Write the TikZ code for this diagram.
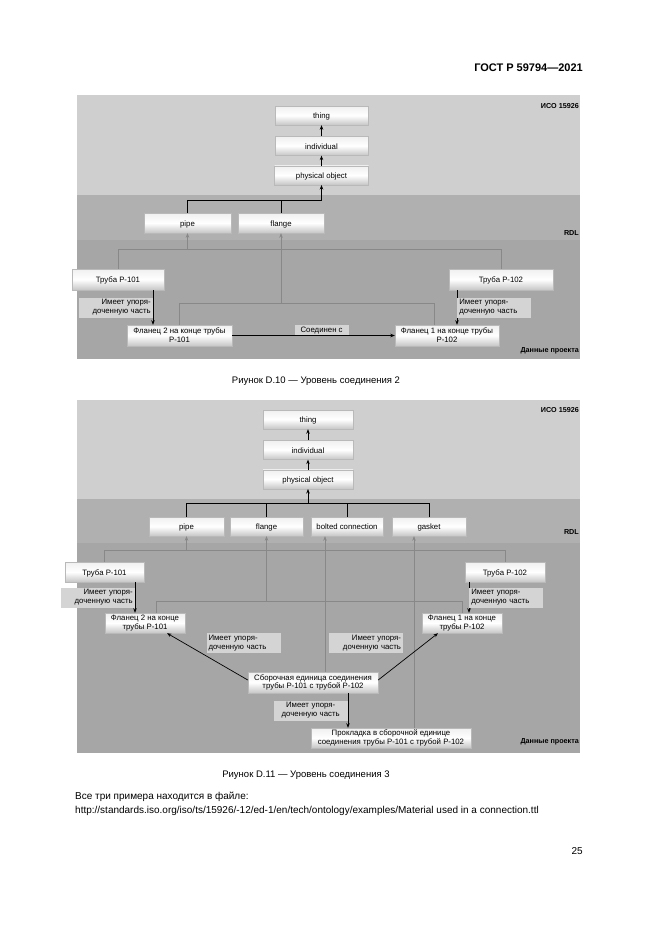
\documentclass[tikz,border=0pt]{standalone}
\usepackage{fontspec}
\setmainfont{Liberation Sans}
\usepackage{xcolor}
\usetikzlibrary{positioning,arrows.meta,shadows,calc}
\definecolor{isobg}{RGB}{207,207,207}
\definecolor{rdlbg}{RGB}{176,176,176}
\definecolor{prjbg}{RGB}{166,166,166}
\definecolor{lblbg}{RGB}{212,212,212}
\definecolor{lineg}{RGB}{136,136,136}

\begin{document}
\begin{tikzpicture}[x=1pt,y=-1pt, every node/.style={font=\fontsize{7.8}{8.8}\selectfont},
  cls/.style={draw=gray!55,top color=gray!12,bottom color=gray!45,middle color=white,
    drop shadow={shadow xshift=.8pt,shadow yshift=-.8pt,opacity=.45},
    minimum height=19pt,inner sep=1pt,align=center},
  one/.style={text height=1.6ex,text depth=.4ex},
  lbl/.style={fill=lblbg,inner xsep=2pt,inner ysep=1pt,minimum height=20pt,text width=70pt},
  lblone/.style={fill=lblbg,inner xsep=3pt,inner ysep=1.5pt,minimum width=54pt},
  zone/.style={font=\fontsize{7.2}{8}\selectfont\bfseries,anchor=east,inner sep=0pt},
  page/.style={font=\fontsize{9.5}{11}\selectfont,inner sep=0pt},
  blk/.style={draw=black,line width=.7pt},
  gry/.style={draw=lineg,line width=.6pt},
  >={Stealth[length=4.5pt,width=3.5pt]}]
  \fill[white] (0,0) rectangle (661,935);
  \useasboundingbox (0,0) rectangle (661,935);

  % page text
  \node[page,font=\fontsize{11}{13}\selectfont\bfseries,anchor=east] (hdr) at (583,68) {ГОСТ Р 59794—2021};
  \node[page] (cap1) at (316,381) {Риунок D.10 — Уровень соединения 2};
  \node[page] (cap2) at (306,775) {Риунок D.11 — Уровень соединения 3};
  \node[page,font=\fontsize{10}{12}\selectfont,anchor=west] (note1) at (75,797) {Все три примера находится в файле:};
  \node[page,font=\fontsize{10}{12}\selectfont,anchor=west] (note2) at (75,811) {http://standards.iso.org/iso/ts/15926/-12/ed-1/en/tech/ontology/examples/Material used in a connection.ttl};
  \node[page,font=\fontsize{10}{12}\selectfont,anchor=east] (pgno) at (583,851) {25};

  % ---- Figure D.10
  \fill[isobg] (77,95) rectangle (580,195);
  \fill[rdlbg] (77,195) rectangle (580,240);
  \fill[prjbg] (77,240) rectangle (580,359);
  \node[zone] (isoA) at (579,106) {ИСО 15926};
  \node[zone] (rdlA) at (579,233) {RDL};
  \node[zone] (prjA) at (579,351) {Данные проекта};

  \node[cls,one,minimum width=93pt] (thing) at (321.5,115.5) {thing};
  \node[cls,one,minimum width=93pt,below=11pt of thing] (ind) {individual};
  \node[cls,one,minimum width=94pt,below=10pt of ind] (phys) {physical object};
  \node[cls,one,minimum width=87pt,minimum height=20pt] (pipe) at (187.5,223) {pipe};
  \node[cls,one,minimum width=86pt,minimum height=20pt] (flange) at (281,223) {flange};
  \node[cls,one,minimum width=92pt,minimum height=21pt] (tr1) at (118,279.5) {Труба Р-101};
  \node[cls,one,minimum width=104pt,minimum height=21pt] (tr2) at (501,279.5) {Труба Р-102};
  \node[cls,minimum width=105pt,minimum height=21pt] (fl2) at (179.5,335.5) {Фланец 2 на конце трубы\\Р-101};
  \node[cls,minimum width=104pt,minimum height=21pt] (fl1) at (447,335.5) {Фланец 1 на конце трубы\\Р-102};

  \draw[->,blk] (ind) -- (thing);
  \draw[->,blk] (phys) -- (ind);
  \coordinate (j1) at ([yshift=-15pt]phys.south);
  \draw[->,blk] (pipe.north) |- (j1) -- (phys.south);
  \draw[blk] (flange.north) -- (flange.north |- j1);

  \coordinate (g1) at ([yshift=-16pt]pipe.south);
  \draw[->,gry] (tr1.north) |- (g1) -- (pipe.south);
  \draw[gry] (tr2.north) |- (g1);
  \coordinate (g2) at ([yshift=-70pt]flange.south);
  \draw[->,gry] (fl2.north) |- (g2) -- (flange.south);
  \coordinate (f1top) at ([xshift=-13pt]fl1.north);
  \draw[gry] (f1top) |- (g2);

  \coordinate (a1) at ([xshift=35pt]tr1.south);
  \draw[->,blk] (a1) -- (a1 |- fl2.north)
    node[lbl,pos=.5,anchor=east,align=right] {Имеет упоря-\\доченную часть};
  \coordinate (a2) at ([xshift=-44pt]tr2.south);
  \draw[->,blk] (a2) -- (a2 |- fl1.north)
    node[lbl,pos=.5,anchor=west,align=left] {Имеет упоря-\\доченную часть};
  \draw[->,blk] (fl2.east) -- (fl1.west) node[lblone,pos=.55,above] {Соединен с};

  % ---- Figure D.11
  \fill[isobg] (77,400) rectangle (580,499);
  \fill[rdlbg] (77,499) rectangle (580,543);
  \fill[prjbg] (77,543) rectangle (580,753);
  \node[zone] (isoB) at (579,410) {ИСО 15926};
  \node[zone] (rdlB) at (579,532) {RDL};
  \node[zone] (prjB) at (579,742) {Данные проекта};

  \node[cls,one,minimum width=90pt] (thingB) at (308,419.5) {thing};
  \node[cls,one,minimum width=90pt,below=11pt of thingB] (indB) {individual};
  \node[cls,one,minimum width=90pt,below=10pt of indB] (physB) {physical object};
  \node[cls,one,minimum width=75pt] (pipeB) at (186.5,526.5) {pipe};
  \node[cls,one,minimum width=73pt] (flangeB) at (266.5,526.5) {flange};
  \node[cls,one,minimum width=72pt] (boltB) at (347,526.5) {bolted connection};
  \node[cls,one,minimum width=74pt] (gasketB) at (429,526.5) {gasket};
  \node[cls,one,minimum width=79pt,minimum height=20pt] (trB1) at (104.5,572) {Труба Р-101};
  \node[cls,one,minimum width=80pt,minimum height=20pt] (trB2) at (505,572) {Труба Р-102};
  \node[cls,minimum width=80pt,minimum height=20pt] (flB2) at (145,623) {Фланец 2 на конце\\трубы Р-101};
  \node[cls,minimum width=80pt,minimum height=20pt] (flB1) at (462,623) {Фланец 1 на конце\\трубы Р-102};
  \node[cls,minimum width=130pt,minimum height=21pt] (asm) at (313,682.5) {Сборочная единица соединения\\трубы Р-101 с трубой Р-102};
  \node[cls,minimum width=160pt,minimum height=20pt] (gsk) at (391,738) {Прокладка в сборочной единице\\соединения трубы Р-101 с трубой Р-102};

  \draw[->,blk] (indB) -- (thingB);
  \draw[->,blk] (physB) -- (indB);
  \coordinate (jB) at ([yshift=-14pt]physB.south);
  \draw[->,blk] (pipeB.north) |- (jB) -- (physB.south);
  \draw[blk] (gasketB.north) |- (jB);
  \draw[blk] (flangeB.north) -- (flangeB.north |- jB);
  \draw[blk] (boltB.north) -- (boltB.north |- jB);

  \coordinate (gB1) at ([yshift=-14pt]pipeB.south);
  \draw[->,gry] (trB1.north) |- (gB1) -- (pipeB.south);
  \draw[gry] (trB2.north) |- (gB1);
  \coordinate (gB2) at ([yshift=-65pt]flangeB.south);
  \coordinate (f2top) at ([xshift=11pt]flB2.north);
  \draw[->,gry] (f2top) |- (gB2) -- (flangeB.south);
  \draw[gry] (flB1.north) |- (gB2);
  \coordinate (asmtop) at ([xshift=12pt]asm.north);
  \draw[->,gry] (asmtop) -- (asmtop |- boltB.south);
  \coordinate (gsktop) at ([xshift=23pt]gsk.north);
  \draw[->,gry] (gsktop) -- (gsktop |- gasketB.south);

  \coordinate (b1) at ([xshift=30.5pt]trB1.south);
  \draw[->,blk] (b1) -- (b1 |- flB2.north)
    node[lbl,pos=.5,anchor=east,align=right] {Имеет упоря-\\доченную часть};
  \coordinate (b2) at ([xshift=-36pt]trB2.south);
  \draw[->,blk] (b2) -- (b2 |- flB1.north)
    node[lbl,pos=.5,anchor=west,align=left] {Имеет упоря-\\доченную часть};
  \draw[->,blk] ([yshift=2.5pt]asm.west) -- ([xshift=22pt]flB2.south);
  \draw[->,blk] ([yshift=2.5pt]asm.east) -- ([xshift=-24pt]flB1.south);
  \node[lbl,align=left] (hp1) at (243.5,643) {Имеет упоря-\\доченную часть};
  \node[lbl,align=right] (hp2) at (366,643) {Имеет упоря-\\доченную часть};
  \coordinate (b3) at ([xshift=35pt]asm.south);
  \draw[->,blk] (b3) -- (b3 |- gsk.north)
    node[lbl,pos=.5,anchor=east,align=center] {Имеет упоря-\\доченную часть};
\end{tikzpicture}
\end{document}
